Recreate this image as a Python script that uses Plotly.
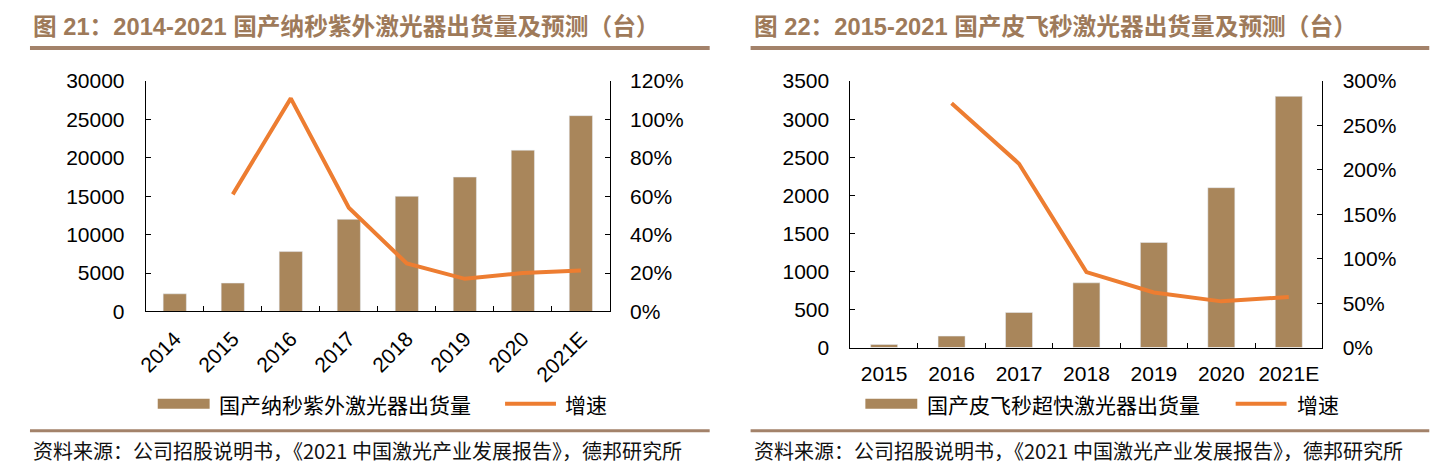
import plotly.graph_objects as go

# ---------------- data ----------------
years1 = ["2014", "2015", "2016", "2017", "2018", "2019", "2020", "2021E"]
ship1 = [2300, 3700, 7800, 12000, 15000, 17500, 21000, 25500]
growth1 = [None, 61, 111, 54, 25, 17, 20, 21.4]

years2 = ["2015", "2016", "2017", "2018", "2019", "2020", "2021E"]
ship2 = [40, 150, 460, 850, 1380, 2100, 3300]
growth2 = [None, 275, 207, 85, 62, 52, 57]

title1 = "图 21：2014-2021 国产纳秒紫外激光器出货量及预测（台）"
title2 = "图 22：2015-2021 国产皮飞秒激光器出货量及预测（台）"
bar_name1 = "国产纳秒紫外激光器出货量"
bar_name2 = "国产皮飞秒超快激光器出货量"
line_name = "增速"
source = "资料来源：公司招股说明书，《2021 中国激光产业发展报告》，德邦研究所"

# ---------------- style ----------------
W, H = 1447, 475
BAR = "#A9865B"
ORANGE = "#ED7D31"
TITLE_C = "#9E7A5A"
RULE_C = "#A3826A"
NUM_FONT = "Liberation Sans, Arial, sans-serif"
CJK_FONT = "Noto Sans CJK SC, sans-serif"


# map target picture pixels to paper fractions (compensates observed page offset)
def px(x):
    return ((x - 18) / 0.995) / W


def py(y):
    return 1 - ((y - 20) / 0.95) / H


fig = go.Figure()
fig.add_trace(go.Bar(x=years1, y=ship1, name=bar_name1, marker_color=BAR,
                     xaxis="x", yaxis="y", showlegend=False))
fig.add_trace(go.Scatter(x=years1, y=growth1, name=line_name, mode="lines",
                         line=dict(color=ORANGE, width=4),
                         xaxis="x", yaxis="y2", showlegend=False))
fig.add_trace(go.Bar(x=years2, y=ship2, name=bar_name2, marker_color=BAR,
                     xaxis="x2", yaxis="y3", showlegend=False))
fig.add_trace(go.Scatter(x=years2, y=growth2, name=line_name, mode="lines",
                         line=dict(color=ORANGE, width=4),
                         xaxis="x2", yaxis="y4", showlegend=False))

tickf = dict(family=NUM_FONT, size=21, color="#000000")
ax_common = dict(showline=True, linecolor="#000000", linewidth=1, showgrid=False,
                 zeroline=False, ticks="inside", ticklen=5, tickcolor="#000000",
                 tickfont=tickf, fixedrange=True)

fig.update_layout(
    width=W, height=H,
    margin=dict(l=0, r=0, t=0, b=0),
    paper_bgcolor="white", plot_bgcolor="white",
    bargap=0.6,
    xaxis=dict(domain=[px(146), px(611)], anchor="y", tickangle=-45,
               tickson="boundaries", ticklabelstandoff=6, **ax_common),
    yaxis=dict(domain=[py(311), py(81)], anchor="x", range=[0, 30000], dtick=5000,
               tickformat="d", ticklabelstandoff=16, **ax_common),
    yaxis2=dict(overlaying="y", side="right", anchor="x", range=[0, 120], dtick=20,
                ticksuffix="%", ticklabelstandoff=15, **ax_common),
    xaxis2=dict(domain=[px(852), px(1325)], anchor="y3", tickangle=0,
                tickson="boundaries", ticklabelstandoff=7, **ax_common),
    yaxis3=dict(domain=[py(347), py(81)], anchor="x2", range=[0, 3500], dtick=500,
                tickformat="d", ticklabelstandoff=16, **ax_common),
    yaxis4=dict(overlaying="y3", side="right", anchor="x2", range=[0, 300], dtick=50,
                ticksuffix="%", ticklabelstandoff=15, **ax_common),
)

shapes = []
annotations = []

# titles, rules, footers
for title, x0, x1 in [(title1, 30, 711), (title2, 752, 1432)]:
    annotations.append(dict(text="<b>" + title + "</b>", x=px(x0 + 1), y=py(26),
                            xref="paper", yref="paper", xanchor="left", yanchor="middle",
                            showarrow=False,
                            font=dict(family="Liberation Sans, Noto Sans CJK SC, sans-serif",
                                      size=23.7, color=TITLE_C)))
    shapes.append(dict(type="line", xref="paper", yref="paper", x0=px(x0), x1=px(x1),
                       y0=py(48), y1=py(48), line=dict(color=RULE_C, width=4)))
    shapes.append(dict(type="line", xref="paper", yref="paper", x0=px(x0), x1=px(x1),
                       y0=py(430), y1=py(430), line=dict(color=RULE_C, width=3)))
    annotations.append(dict(text=source, x=px(x0 + 1), y=py(450), xref="paper", yref="paper",
                            xanchor="left", yanchor="middle", showarrow=False,
                            font=dict(family=CJK_FONT, size=20, color="#111111")))

# custom legends
for name, rx0, rx1, tx, lx0, lx1, ltx in [
    (bar_name1, 158, 210, 217, 506, 557, 564),
    (bar_name2, 867, 919, 927, 1238, 1289, 1297),
]:
    shapes.append(dict(type="rect", xref="paper", yref="paper", x0=px(rx0), x1=px(rx1),
                       y0=py(408), y1=py(398), fillcolor=BAR, line=dict(width=0)))
    annotations.append(dict(text=name, x=px(tx), y=py(403), xref="paper", yref="paper",
                            xanchor="left", yanchor="middle", showarrow=False,
                            font=dict(family=CJK_FONT, size=21, color="#000000")))
    shapes.append(dict(type="line", xref="paper", yref="paper", x0=px(lx0), x1=px(lx1),
                       y0=py(403), y1=py(403), line=dict(color=ORANGE, width=4)))
    annotations.append(dict(text=line_name, x=px(ltx), y=py(403), xref="paper", yref="paper",
                            xanchor="left", yanchor="middle", showarrow=False,
                            font=dict(family=CJK_FONT, size=21, color="#000000")))

fig.update_layout(shapes=shapes, annotations=annotations)
fig.write_html("out.html")
